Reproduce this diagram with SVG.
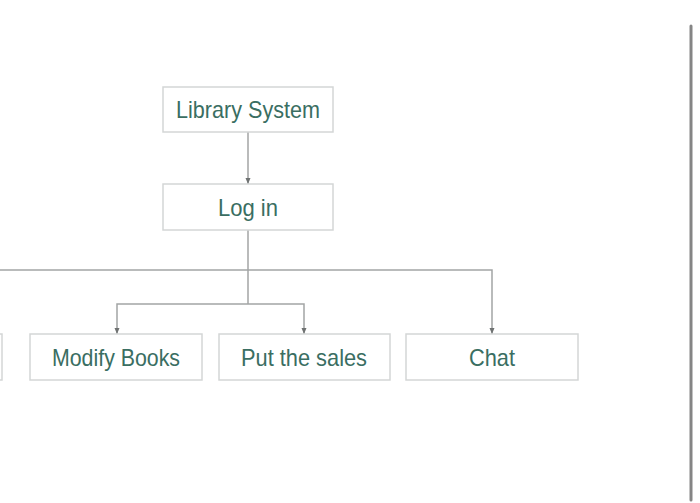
<svg xmlns="http://www.w3.org/2000/svg" width="700" height="503" viewBox="0 0 700 503">
<style>
.box{fill:#fff;stroke:#d4d6d6;stroke-width:1.5}
.lbl{font-family:"Liberation Sans",Arial,sans-serif;font-size:24px;fill:#3a6e62;text-anchor:middle}
.con{fill:none;stroke:#a3a5a5;stroke-width:1.5}
</style>
<defs>
<marker id="ah" viewBox="0 0 8 8" refX="7" refY="4" markerWidth="8" markerHeight="8" orient="auto" markerUnits="userSpaceOnUse">
<path d="M1,1.5 L7,4 L1,6.5 Z" fill="#6f7272"/>
</marker>
</defs>
<rect width="700" height="503" fill="#fff"/>
<g id="connectors">
<path class="con" d="M248,132 V184" marker-end="url(#ah)"/>
<path class="con" d="M248,230 V304"/>
<path class="con" d="M0,270 H492 V334" marker-end="url(#ah)"/>
<path class="con" d="M248,304 H117 V334" marker-end="url(#ah)"/>
<path class="con" d="M248,304 H304 V334" marker-end="url(#ah)"/>
</g>
<g id="library-system">
<rect class="box" x="163" y="87" width="170" height="45"/>
<text class="lbl" x="248" y="118" textLength="144" lengthAdjust="spacingAndGlyphs">Library System</text>
</g>
<g id="log-in">
<rect class="box" x="163" y="184" width="170" height="46"/>
<text class="lbl" x="248" y="216" textLength="60" lengthAdjust="spacingAndGlyphs">Log in</text>
</g>
<g id="left-partial">
<rect class="box" x="-100" y="334" width="102" height="46"/>
</g>
<g id="modify-books">
<rect class="box" x="30" y="334" width="172" height="46"/>
<text class="lbl" x="116" y="366" textLength="128" lengthAdjust="spacingAndGlyphs">Modify Books</text>
</g>
<g id="put-the-sales">
<rect class="box" x="219" y="334" width="171" height="46"/>
<text class="lbl" x="304" y="366" textLength="126" lengthAdjust="spacingAndGlyphs">Put the sales</text>
</g>
<g id="chat">
<rect class="box" x="406" y="334" width="172" height="46"/>
<text class="lbl" x="492" y="366" textLength="46" lengthAdjust="spacingAndGlyphs">Chat</text>
</g>
<line x1="691" y1="26" x2="691" y2="500" stroke="#858585" stroke-width="3" stroke-linecap="round"/>
</svg>
